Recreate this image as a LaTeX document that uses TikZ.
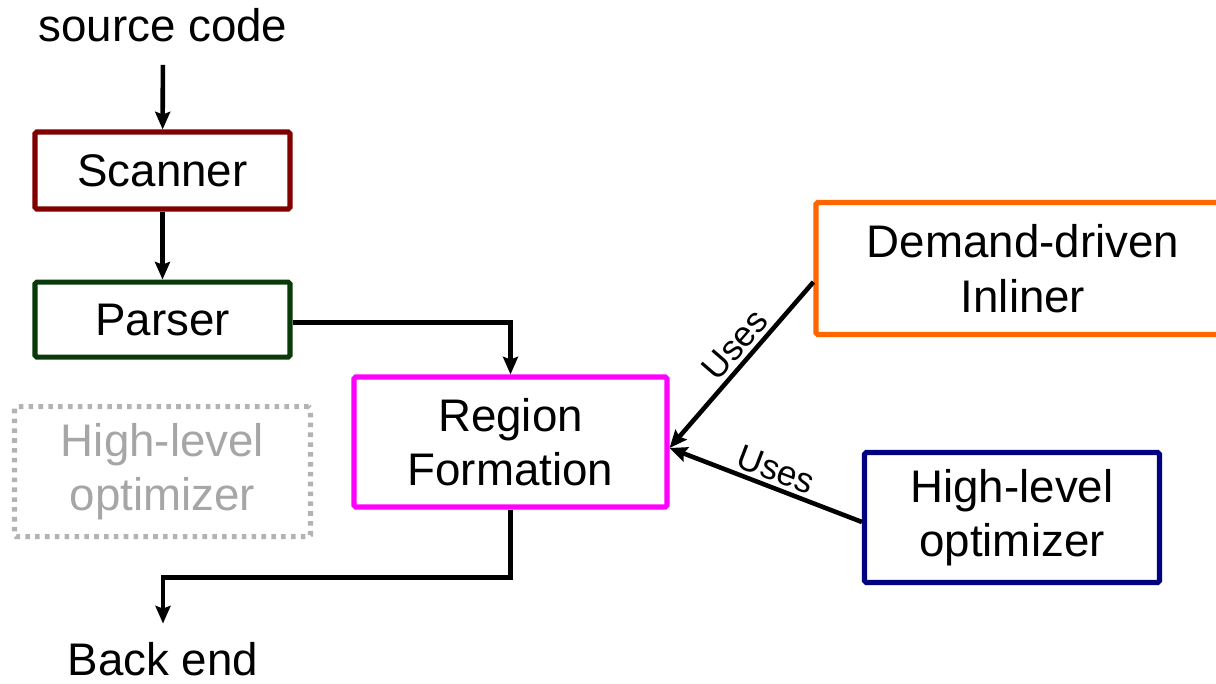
\documentclass[tikz,border=0pt]{standalone}
\usepackage{fontspec}
\setmainfont{Liberation Sans}
\usetikzlibrary{arrows.meta,positioning}
\definecolor{scanRed}{HTML}{800000}
\definecolor{parseGreen}{HTML}{0A3A0A}
\definecolor{regMagenta}{HTML}{FF00FF}
\definecolor{inlOrange}{HTML}{FF6600}
\definecolor{optNavy}{HTML}{000080}
\definecolor{ghost}{HTML}{B3B3B3}
\definecolor{ghostText}{HTML}{A6A6A6}

\begin{document}
\begin{tikzpicture}[
    font=\fontsize{26}{31}\selectfont,
    phase/.style={draw,line width=2.9pt,rounded corners=1pt,align=center,inner sep=0pt},
    flow/.style={-{Stealth[length=10pt,width=8.5pt,inset=1.5pt]},line width=2.6pt},
    uses/.style={font=\fontsize{20}{24}\selectfont,sloped,above,inner sep=2pt}]
  \useasboundingbox (0,0) rectangle (24.32,-13.68);

  % front end column
  \node[anchor=base,inner sep=0pt] (src) at (3.26,-0.82) {source code};
  \node[phase,draw=scanRed,minimum width=5.1cm,minimum height=1.54cm] (scan) at (3.25,-3.41) {Scanner};
  \node[phase,draw=parseGreen,minimum width=5.1cm,minimum height=1.5cm,below=1.36cm of scan] (pars) {Parser};
  \node[phase,draw=ghost,dash pattern=on 2.6pt off 3pt,text=ghostText,minimum width=5.92cm,minimum height=2.6cm,below=0.89cm of pars] (hlgray)
    {High-level\\optimizer};
  \node[anchor=base,inner sep=0pt] (back) at (3.26,-13.5) {Back end};

  % region formation and its helpers
  \node[phase,draw=regMagenta,minimum width=6.26cm,minimum height=2.6cm] (reg) at (10.21,-8.84)
    {Region\\Formation};
  \node[phase,draw=inlOrange,minimum width=8.28cm,minimum height=2.64cm] (dem) at (20.46,-5.37)
    {Demand-driven\\Inliner};
  \node[phase,draw=optNavy,minimum width=5.9cm,minimum height=2.6cm] (hlo) at (20.24,-10.35)
    {High-level\\optimizer};

  \draw[flow,shorten <=0.46cm] (src) -- (scan);
  \draw[flow] (scan) -- (pars);
  \draw[flow] ([yshift=-0.06cm]pars.east) -| (reg.north);
  \draw[flow,shorten >=0.36cm] (reg.south) -- ++(0,-1.36) -| (back.north);
  \draw[flow] ([yshift=-0.27cm]dem.west) -- node[uses,pos=0.45] {Uses} ([yshift=-0.12cm]reg.east);
  \draw[flow] ([yshift=-0.09cm]hlo.west) -- node[uses,pos=0.48] {Uses} ([yshift=-0.12cm]reg.east);
\end{tikzpicture}
\end{document}
